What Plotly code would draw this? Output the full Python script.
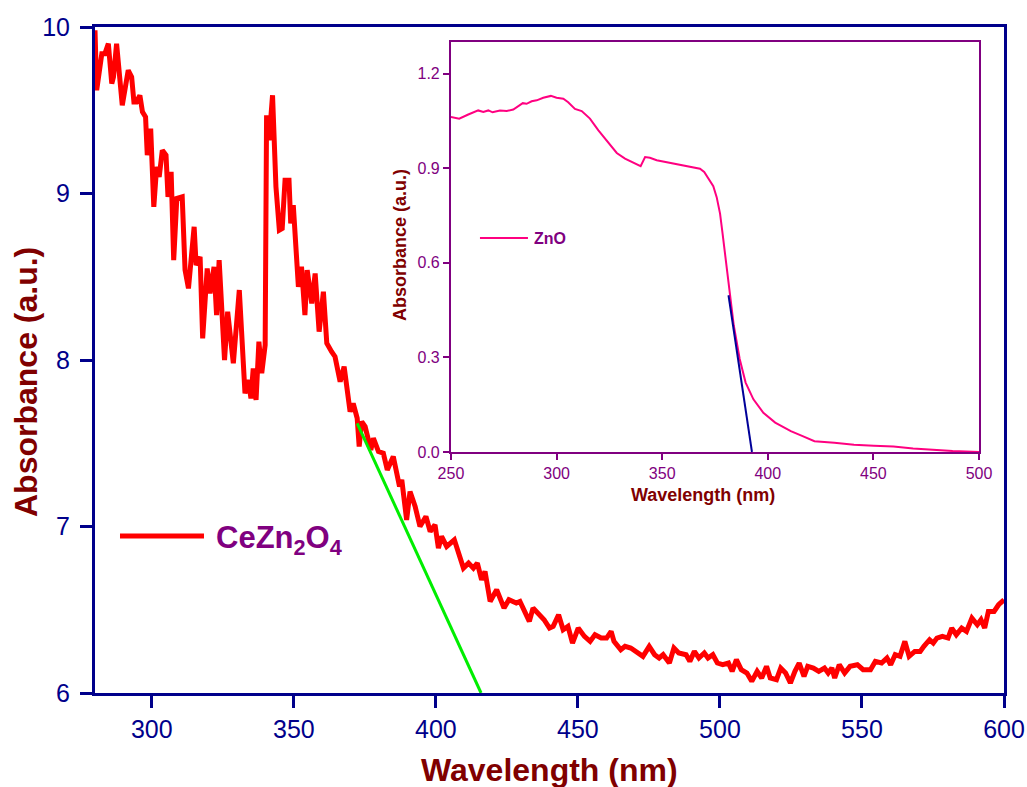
import plotly.graph_objects as go

# ---- Main spectrum: CeZn2O4 ----
wavelength = [
    280.0, 280.6, 282.4, 283.5, 284.7, 285.9, 286.5, 287.6, 289.6, 291.7, 292.9, 293.7, 294.6, 295.8,
    296.7, 297.8, 298.4, 299.6, 300.7, 301.7, 302.6, 303.7, 305.0, 305.7, 306.8, 307.7, 308.8, 310.7,
    311.7, 312.9, 314.9, 315.6, 317.0, 317.9, 319.5, 320.5, 321.9, 322.8, 323.7, 325.6, 326.7, 328.7,
    330.8, 332.8, 334.0, 334.9, 335.7, 336.7, 337.7, 338.7, 339.9, 340.4, 341.3, 342.5, 343.7, 344.9,
    345.9, 346.9, 348.3, 348.9, 349.8, 351.6, 352.7, 353.9, 354.7, 356.3, 357.5, 358.9, 360.4, 361.6,
    363.3, 364.5, 366.3, 367.7, 369.8, 370.9, 372.3, 373.0, 373.9, 375.1, 377.1, 378.0, 379.8, 381.5,
    382.9, 385.0, 387.2, 388.0, 389.7, 390.9, 392.7, 394.4, 396.5, 398.0, 399.7, 400.9, 402.0, 403.8,
    406.5, 408.3, 409.7, 411.5, 413.2, 414.6, 416.1, 417.3, 419.1, 421.4, 424.0, 425.7, 428.3, 429.6,
    432.9, 434.2, 436.2, 438.1, 440.0, 441.3, 443.2, 444.8, 446.5, 448.1, 450.1, 452.3, 454.3, 456.0,
    458.2, 460.1, 461.7, 462.7, 465.1, 466.6, 468.6, 471.2, 472.9, 475.1, 477.0, 478.6, 480.0, 482.2,
    483.8, 485.5, 488.1, 489.4, 491.0, 492.6, 494.5, 495.8, 497.5, 499.1, 501.0, 503.0, 504.3, 505.8,
    507.5, 509.5, 511.2, 513.1, 514.7, 516.4, 517.7, 519.9, 521.4, 523.1, 524.8, 526.4, 527.9, 529.6,
    530.9, 532.9, 534.8, 536.8, 538.1, 539.4, 540.4, 542.0, 543.9, 545.8, 548.4, 550.4, 553.0, 554.7,
    556.9, 558.8, 560.1, 561.7, 563.4, 565.1, 566.6, 568.6, 570.5, 571.8, 573.8, 575.1, 576.4, 578.3,
    580.3, 581.6, 583.2, 585.1, 586.8, 588.7, 590.6, 591.9, 593.2, 594.5, 596.5, 598.1, 600.0,
]
absorbance = [
    9.98, 9.62, 9.84, 9.84, 9.90, 9.66, 9.70, 9.90, 9.53, 9.74, 9.70, 9.55, 9.55, 9.59,
    9.49, 9.46, 9.23, 9.39, 8.92, 9.16, 9.10, 9.26, 9.23, 8.98, 9.13, 8.60, 8.97, 8.98,
    8.54, 8.43, 8.80, 8.57, 8.62, 8.13, 8.55, 8.40, 8.56, 8.27, 8.60, 8.00, 8.29, 7.98,
    8.42, 7.80, 7.88, 7.77, 7.95, 7.76, 8.11, 7.92, 8.09, 9.47, 9.32, 9.59, 9.04, 8.78,
    8.79, 9.08, 9.08, 8.82, 8.93, 8.44, 8.56, 8.27, 8.54, 8.34, 8.52, 8.17, 8.41, 8.10,
    8.05, 8.02, 7.87, 7.96, 7.69, 7.74, 7.65, 7.48, 7.63, 7.60, 7.46, 7.53, 7.45, 7.44,
    7.34, 7.42, 7.24, 7.28, 7.04, 7.21, 7.12, 7.00, 7.06, 6.97, 7.01, 6.87, 6.94, 6.88,
    6.92, 6.82, 6.75, 6.78, 6.75, 6.78, 6.68, 6.73, 6.55, 6.62, 6.51, 6.56, 6.54, 6.55,
    6.43, 6.51, 6.47, 6.44, 6.39, 6.40, 6.47, 6.38, 6.40, 6.30, 6.39, 6.34, 6.31, 6.35,
    6.33, 6.33, 6.37, 6.31, 6.26, 6.28, 6.27, 6.24, 6.22, 6.28, 6.23, 6.21, 6.23, 6.18,
    6.27, 6.24, 6.23, 6.19, 6.25, 6.21, 6.24, 6.21, 6.23, 6.18, 6.17, 6.18, 6.13, 6.20,
    6.14, 6.12, 6.07, 6.13, 6.09, 6.16, 6.09, 6.08, 6.15, 6.12, 6.06, 6.13, 6.18, 6.10,
    6.16, 6.15, 6.13, 6.15, 6.12, 6.15, 6.09, 6.17, 6.12, 6.16, 6.17, 6.14, 6.14, 6.19,
    6.18, 6.21, 6.17, 6.23, 6.22, 6.31, 6.22, 6.25, 6.25, 6.28, 6.32, 6.30, 6.33, 6.34,
    6.33, 6.39, 6.35, 6.39, 6.37, 6.45, 6.41, 6.44, 6.39, 6.49, 6.49, 6.53, 6.56,
]
tangent_main_x = [372.3, 415.9]
tangent_main_y = [7.62, 6.0]

# ---- Inset spectrum: ZnO ----
zno_wavelength = [
    250.0, 253.9, 258.2, 262.9, 265.3, 267.7, 269.7, 273.2, 276.4, 279.5, 284.0, 285.8, 288.2, 290.6,
    293.7, 297.3, 300.0, 303.2, 305.5, 308.7, 311.9, 315.8, 319.8, 323.7, 328.5, 332.4, 334.8, 337.6,
    339.8, 341.9, 344.2, 347.4, 351.3, 355.3, 360.0, 364.0, 367.9, 369.9, 371.8, 374.2, 375.8, 377.4,
    378.6, 380.0, 382.0, 383.9, 386.7, 389.5, 393.2, 397.9, 403.5, 410.9, 416.5, 422.1, 431.5, 440.8,
    450.2, 459.5, 468.8, 478.2, 487.5, 500.0,
]
zno_absorbance = [
    1.062, 1.057, 1.070, 1.083, 1.078, 1.083, 1.077, 1.083, 1.081, 1.086, 1.106, 1.104, 1.112, 1.115,
    1.123, 1.129, 1.123, 1.120, 1.109, 1.088, 1.081, 1.057, 1.020, 0.988, 0.948, 0.930, 0.922, 0.911,
    0.906, 0.935, 0.933, 0.925, 0.920, 0.914, 0.909, 0.903, 0.898, 0.888, 0.867, 0.843, 0.808, 0.756,
    0.692, 0.610, 0.507, 0.401, 0.295, 0.220, 0.167, 0.124, 0.093, 0.066, 0.050, 0.034, 0.029, 0.023,
    0.020, 0.017, 0.011, 0.006, 0.003, 0.000,
]
tangent_zno_x = [381.4, 392.5]
tangent_zno_y = [0.497, 0.0]

main_xticks = [300, 350, 400, 450, 500, 550, 600]
main_yticks = [6, 7, 8, 9, 10]
inset_xticks = [250, 300, 350, 400, 450, 500]
inset_yticks = [0.0, 0.3, 0.6, 0.9, 1.2]
inset_yticklabels = ["0.0", "0.3", "0.6", "0.9", "1.2"]

NAVY = "#00008b"
MAROON = "#800000"
PURPLE = "#800080"
FONT = "Liberation Sans, Arial, sans-serif"

fig = go.Figure()
fig.add_trace(go.Scatter(x=wavelength, y=absorbance, mode="lines", name="CeZn2O4",
                         line=dict(color="#ff0000", width=5), xaxis="x", yaxis="y"))
fig.add_trace(go.Scatter(x=tangent_main_x, y=tangent_main_y, mode="lines",
                         line=dict(color="#00ee00", width=3), xaxis="x", yaxis="y"))
fig.add_trace(go.Scatter(x=zno_wavelength, y=zno_absorbance, mode="lines", name="ZnO",
                         line=dict(color="#ff0080", width=2), xaxis="x2", yaxis="y2"))
fig.add_trace(go.Scatter(x=tangent_zno_x, y=tangent_zno_y, mode="lines",
                         line=dict(color="#000099", width=2), xaxis="x2", yaxis="y2"))

fig.update_layout(
    width=1027, height=787, autosize=False,
    margin=dict(l=95, r=23, t=27, b=94),
    plot_bgcolor="white", paper_bgcolor="white",
    showlegend=False,
    font=dict(family=FONT),
    xaxis=dict(range=[280, 600], tickvals=main_xticks, ticks="outside", ticklen=12, tickwidth=3,
               tickcolor=NAVY, linecolor=NAVY, linewidth=3, mirror=True, showgrid=False,
               zeroline=False, tickfont=dict(size=25, color=NAVY, family=FONT),
               ticklabelstandoff=0, automargin=False),
    yaxis=dict(range=[6, 10], tickvals=main_yticks, ticks="outside", ticklen=12, tickwidth=3,
               tickcolor=NAVY, linecolor=NAVY, linewidth=3, mirror=True, showgrid=False,
               zeroline=False, tickfont=dict(size=25, color=NAVY, family=FONT),
               ticklabelstandoff=5, automargin=False),
    xaxis2=dict(domain=[0.3916, 0.9725], anchor="y2", range=[250, 500], tickvals=inset_xticks,
                ticks="outside", ticklen=6, tickwidth=2, tickcolor=PURPLE, linecolor=PURPLE,
                linewidth=2, mirror=True, showgrid=False, zeroline=False, automargin=False,
                tickfont=dict(size=16, color=PURPLE, family=FONT)),
    yaxis2=dict(domain=[0.3619, 0.9775], anchor="x2", range=[0, 1.3], tickvals=inset_yticks,
                ticktext=inset_yticklabels, ticks="outside", ticklen=6, tickwidth=2,
                tickcolor=PURPLE, linecolor=PURPLE, linewidth=2, mirror=True, showgrid=False,
                zeroline=False, automargin=False,
                tickfont=dict(size=16, color=PURPLE, family=FONT)),
)

annotations = [
    dict(text="<b>Wavelength (nm)</b>", x=0.5, y=-0.1156, xref="paper", yref="paper",
         xanchor="center", yanchor="middle", showarrow=False,
         font=dict(size=32, color=MAROON, family=FONT)),
    dict(text="<b>Absorbance (a.u.)</b>", x=-0.0759, y=0.467, xref="paper", yref="paper",
         xanchor="center", yanchor="middle", textangle=-90, showarrow=False,
         font=dict(size=32, color=MAROON, family=FONT)),
    dict(text="<b>Wavelength (nm)</b>", x=0.6689, y=0.2973, xref="paper", yref="paper",
         xanchor="center", yanchor="middle", showarrow=False,
         font=dict(size=18, color=MAROON, family=FONT)),
    dict(text="<b>Absorbance (a.u.)</b>", x=0.3355, y=0.6727, xref="paper", yref="paper",
         xanchor="center", yanchor="middle", textangle=-90, showarrow=False,
         font=dict(size=18, color=MAROON, family=FONT)),
    dict(text="<b>CeZn<sub>2</sub>O<sub>4</sub></b>", x=0.1309, y=0.230, xref="paper", yref="paper",
         xanchor="left", yanchor="middle", showarrow=False,
         font=dict(size=31, color=PURPLE, family=FONT)),
    dict(text="<b>ZnO</b>", x=0.4807, y=0.6817, xref="paper", yref="paper",
         xanchor="left", yanchor="middle", showarrow=False,
         font=dict(size=16, color=PURPLE, family=FONT)),
]
fig.update_layout(annotations=annotations)

fig.update_layout(shapes=[
    dict(type="line", xref="paper", yref="paper", x0=0.0275, x1=0.1199, y0=0.2357, y1=0.2357,
         line=dict(color="#ff0000", width=5)),
    dict(type="line", xref="paper", yref="paper", x0=0.4235, x1=0.4763, y0=0.6832, y1=0.6832,
         line=dict(color="#ff0080", width=2)),
])

fig.write_html("out.html", config={"displayModeBar": False},
               post_script="document.body.style.margin='0';document.body.style.overflow='hidden';")
